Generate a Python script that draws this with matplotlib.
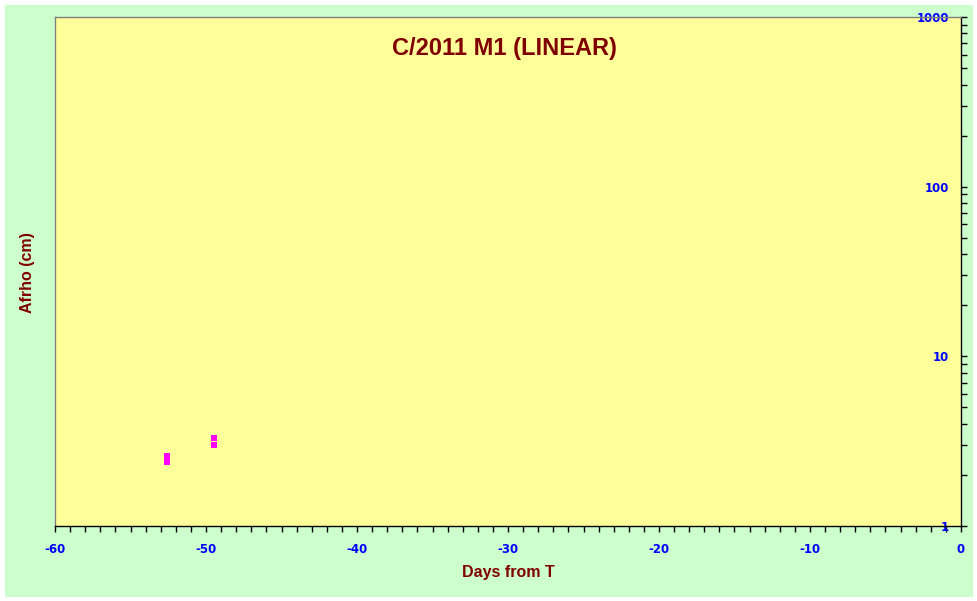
import numpy as np
import matplotlib.pyplot as plt
from matplotlib.patches import Rectangle
from matplotlib.ticker import LogLocator, MultipleLocator, FixedLocator

plt.rcParams['font.family'] = ['Liberation Sans', 'DejaVu Sans']
plt.rcParams['axes.unicode_minus'] = False

# Data
days = [-52.6, -52.6, -49.5, -49.5]
afrho = [2.59, 2.37, 3.32, 3.01]

title = "C/2011 M1 (LINEAR)"
xticks = [-60, -50, -40, -30, -20, -10, 0]
yticks = [1, 10, 100, 1000]

W, H = 978, 601
fig = plt.figure(figsize=(W / 100, H / 100), dpi=100)
fig.patch.set_facecolor("white")
fig.add_artist(Rectangle((5 / W, 4 / H), 968 / W, 592 / H, transform=fig.transFigure,
                         facecolor="#CCFFCC", edgecolor="none", zorder=0))

ax = fig.add_axes([55 / W, 1 - 526 / H, 906 / W, 509 / H])
ax.set_facecolor("#FFFF99")
ax.set_xlim(-60, 0)
ax.set_yscale("log")
ax.set_ylim(1, 1000)

ax.plot(days, afrho, linestyle="none", marker="s", markersize=4.0,
        color="#FF00FF", markeredgewidth=0, antialiased=False)

# spines
ax.spines["left"].set_color("#808080")
ax.spines["top"].set_color("#808080")
ax.spines["right"].set_color("black")
ax.spines["bottom"].set_color("black")
for s in ax.spines.values():
    s.set_linewidth(1)

tick_font = dict(family="DejaVu Sans", weight="bold", size=8.5)

# x axis
ax.xaxis.set_major_locator(FixedLocator(xticks))
ax.xaxis.set_minor_locator(MultipleLocator(1))
ax.xaxis.set_major_formatter(plt.FuncFormatter(lambda v, p: f"{v:g}"))
ax.tick_params(axis="x", which="both", direction="out", length=4, width=1,
               colors="black", labelcolor="#0000FF", pad=8)
for lbl in ax.get_xticklabels():
    lbl.set(**tick_font)

# y axis on the right, labels inside
ax.yaxis.set_major_locator(FixedLocator(yticks))
ax.yaxis.set_minor_locator(LogLocator(base=10, subs=np.arange(2, 10)))
ax.yaxis.set_minor_formatter(plt.NullFormatter())
ax.yaxis.set_major_formatter(plt.FuncFormatter(lambda v, p: f"{v:g}"))
ax.tick_params(axis="y", which="both", left=False, labelleft=False, right=True,
               labelright=True, direction="out", length=4, width=1,
               labelcolor="#0000FF", pad=-12.5)
for lbl in ax.get_yticklabels():
    lbl.set(**tick_font)
    lbl.set_horizontalalignment("right")

ax.text((504 - 55) / 906, 1 - 31 / 509, title, transform=ax.transAxes, ha="center",
        va="center", fontsize=17, fontweight="bold", color="#800000")

fig.text(28 / W, 1 - 273 / H, "Afrho (cm)", rotation=90, ha="center", va="center",
         fontsize=11.5, fontweight="bold", color="#800000")
fig.text(508 / W, 1 - 573 / H, "Days from T", ha="center", va="center",
         fontsize=11.5, fontweight="bold", color="#800000")

fig.savefig("out.png", dpi=100, facecolor=fig.get_facecolor())
